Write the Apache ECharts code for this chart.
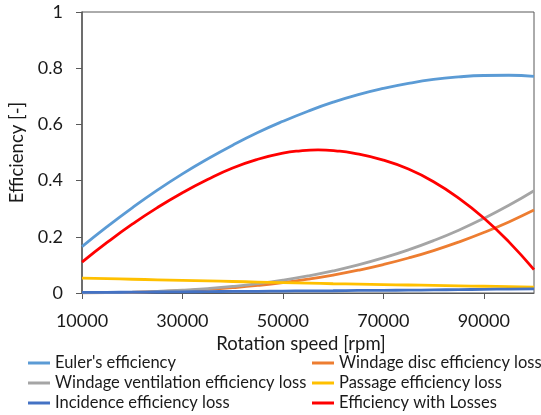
<!DOCTYPE html>
<html>
<head>
<meta charset="utf-8">
<script src="https://cdn.jsdelivr.net/npm/echarts@6/dist/echarts.min.js"></script>
<style>html,body{margin:0;padding:0;background:#fff;}#c{width:541px;height:415px;}</style>
</head>
<body>
<div id="c"></div>
<script>
var rpm = [10000,15000,20000,25000,30000,35000,40000,45000,50000,55000,60000,65000,70000,75000,80000,85000,90000,95000,100000];
var euler = [0.165,0.236,0.303,0.366,0.424,0.477,0.526,0.571,0.611,0.647,0.679,0.706,0.728,0.746,0.760,0.769,0.774,0.775,0.771];
var windageDisc = [0.0003,0.0010,0.0024,0.0046,0.0080,0.0126,0.0189,0.0269,0.0369,0.0491,0.0637,0.0810,0.1012,0.1245,0.1510,0.1812,0.2151,0.2529,0.295];
var windageVent = [0.0004,0.0012,0.0029,0.0057,0.0098,0.0156,0.0233,0.0332,0.0455,0.0606,0.0786,0.0999,0.1249,0.1536,0.1864,0.2235,0.2654,0.3121,0.364];
var passage = [0.053,0.051,0.049,0.047,0.045,0.043,0.041,0.039,0.037,0.035,0.033,0.0315,0.030,0.0285,0.027,0.0255,0.024,0.0225,0.021];
var incidence = [0.002,0.0025,0.003,0.0035,0.004,0.005,0.0055,0.006,0.007,0.0075,0.008,0.009,0.0095,0.010,0.011,0.012,0.013,0.014,0.015];
var lossRpm = [10000,15000,20000,25000,30000,35000,40000,45000,50000,53500,57000,60500,64000,70000,75000,80000,85000,90000,95000,100000];
var withLosses = [0.110,0.180,0.245,0.304,0.357,0.404,0.445,0.476,0.498,0.506,0.509,0.506,0.498,0.473,0.441,0.396,0.338,0.267,0.182,0.083];
var xTicks = [10000,30000,50000,70000,90000];
var names = ["Euler's efficiency","Windage disc efficiency loss","Windage ventilation efficiency loss","Passage efficiency loss","Incidence efficiency loss","Efficiency with Losses"];
var colors = ['#5B9BD5','#ED7D31','#A5A5A5','#FFC000','#4472C4','#FF0000'];
var seriesData = [euler, windageDisc, windageVent, passage, incidence, withLosses];
var seriesX = [rpm, rpm, rpm, rpm, rpm, lossRpm];

function pairs(xs, arr){ return xs.map(function(x,i){ return [x, arr[i]]; }); }

var FONT = 'Lato';
var TXT = '#1a1a1a';
var AX = '#595959';

var chart = echarts.init(document.getElementById('c'), null, {renderer:'canvas'});
var legendText = {fontFamily: FONT, fontSize: 16.5, color: TXT, lineHeight: 20};
chart.setOption({
  animation: false,
  color: colors,
  grid: {left: 82, right: 7, top: 12, bottom: 122, show: true, borderColor: AX, borderWidth: 1,
         containLabel: false, outerBoundsMode: 'none'},
  xAxis: {
    type: 'value', min: 10000, max: 100000,
    name: 'Rotation speed [rpm]', nameLocation: 'middle', nameGap: 39,
    nameTextStyle: {fontFamily: FONT, fontSize: 18.5, color: TXT, padding: [0, 14, 0, 0]},
    axisLine: {show: true, lineStyle: {color: AX, width: 1}},
    axisTick: {show: true, length: 6, customValues: xTicks, lineStyle: {color: AX}},
    axisLabel: {customValues: xTicks, margin: 19, fontFamily: FONT, fontSize: 18, color: TXT,
      formatter: function(v){ return String(v); }},
    splitLine: {show: false}
  },
  yAxis: {
    type: 'value', min: 0, max: 1, interval: 0.2,
    name: 'Efficiency [-]', nameLocation: 'middle', nameGap: 52,
    nameTextStyle: {fontFamily: FONT, fontSize: 18.5, color: TXT},
    axisLine: {show: true, lineStyle: {color: AX, width: 1.5}},
    axisTick: {show: true, length: 6, lineStyle: {color: AX}},
    axisLabel: {margin: 19, fontFamily: FONT, fontSize: 18, color: TXT,
      formatter: function(v){ return String(v); }},
    splitLine: {show: false}
  },
  legend: [
    {orient: 'vertical', left: 28, top: 353, height: 70, padding: 0, itemWidth: 22, itemHeight: 3, itemGap: 0, icon: 'rect',
     data: [names[0], names[2], names[4]], textStyle: legendText, selectedMode: false},
    {orient: 'vertical', left: 312, top: 353, height: 70, padding: 0, itemWidth: 22, itemHeight: 3, itemGap: 0, icon: 'rect',
     data: [names[1], names[3], names[5]], textStyle: legendText, selectedMode: false}
  ],
  series: seriesData.map(function(arr, i){
    return {
      name: names[i], type: 'line', data: pairs(seriesX[i], arr), smooth: true, showSymbol: false, symbol: 'none',
      lineStyle: {width: 2.8, color: colors[i]}, itemStyle: {color: colors[i]}, z: 2 + i
    };
  })
});
</script>
</body>
</html>
